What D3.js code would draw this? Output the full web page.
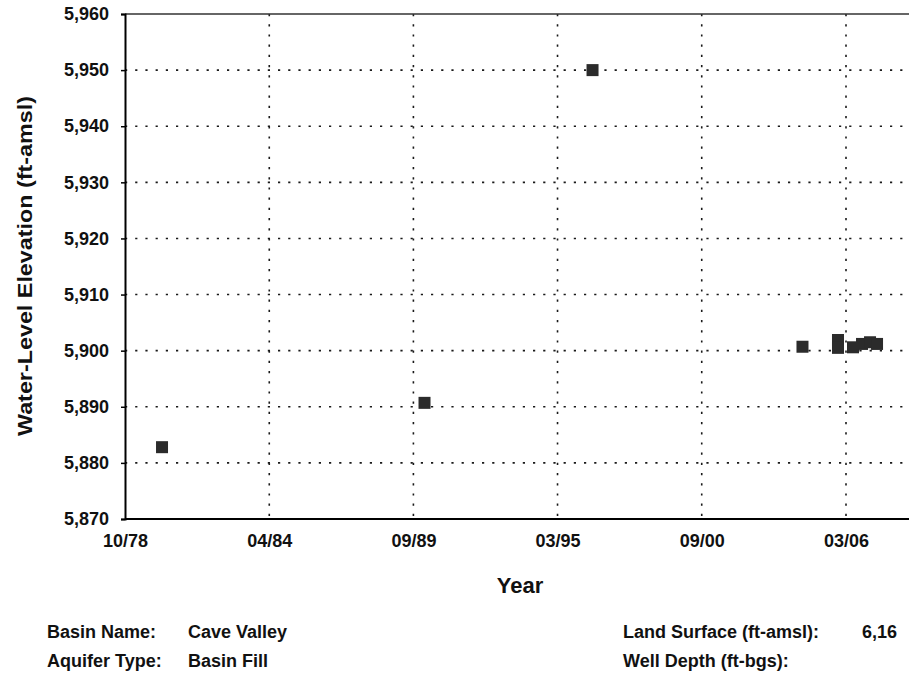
<!DOCTYPE html>
<html>
<head>
<meta charset="utf-8">
<script src="https://cdn.jsdelivr.net/npm/d3@7"></script>
<style>
  html, body { margin: 0; padding: 0; background: #fff; }
  svg { display: block; font-family: "Liberation Sans", Arial, sans-serif; font-weight: bold; }
</style>
</head>
<body>
<svg id="chart" width="909" height="673"></svg>
<script>
// ---- data ----
const measureDates = ["1980-03-16", "1990-03-01", "1996-07-15", "2004-07-02",
  "2005-11-06", "2005-11-06", "2006-06-02", "2006-10-05", "2007-01-24", "2007-05-01"];
const waterLevels = [5882.8, 5890.7, 5950.0, 5900.7,
  5901.9, 5900.5, 5900.6, 5901.2, 5901.5, 5901.2];

const xTickDates = ["1978-10-20", "1984-04-10", "1989-09-28", "1995-03-18", "2000-09-05", "2006-02-25"];
const xTickLabels = ["10/78", "04/84", "09/89", "03/95", "09/00", "03/06"];
const yTickValues = [5870, 5880, 5890, 5900, 5910, 5920, 5930, 5940, 5950, 5960];

const infoLeftLabels = ["Basin Name:", "Aquifer Type:"];
const infoLeftValues = ["Cave Valley", "Basin Fill"];
const infoRightLabels = ["Land Surface (ft-amsl):", "Well Depth (ft-bgs):"];
const infoRightValues = ["6,16", ""];

// ---- layout ----
const parse = d3.timeParse("%Y-%m-%d");
const svg = d3.select("#chart");
const pLeft = 125, pTop = 14, pBottom = 519, pRight = 990;

const x = d3.scaleTime()
  .domain([parse(xTickDates[0]), parse(xTickDates[xTickDates.length - 1])])
  .range([pLeft, 846]);
const y = d3.scaleLinear().domain([5870, 5960]).range([pBottom, pTop]);

const g = svg.append("g");

// horizontal gridlines
g.selectAll("line.hgrid").data(yTickValues.slice(1, -1)).join("line")
  .attr("class", "hgrid")
  .attr("x1", pLeft).attr("x2", pRight)
  .attr("y1", d => y(d)).attr("y2", d => y(d))
  .attr("stroke", "#1a1a1a").attr("stroke-width", 1.6)
  .attr("stroke-dasharray", "2.2,8");

// vertical gridlines
g.selectAll("line.vgrid").data(xTickDates.slice(1)).join("line")
  .attr("class", "vgrid")
  .attr("x1", d => x(parse(d))).attr("x2", d => x(parse(d)))
  .attr("y1", pTop).attr("y2", pBottom)
  .attr("stroke", "#1a1a1a").attr("stroke-width", 1.6)
  .attr("stroke-dasharray", "2.2,8");

// top border
g.append("line")
  .attr("x1", pLeft).attr("x2", pRight)
  .attr("y1", pTop).attr("y2", pTop)
  .attr("stroke", "#333").attr("stroke-width", 1.5);

// y axis
const yAxis = d3.axisLeft(y).tickValues(yTickValues)
  .tickFormat(d3.format(",")).tickSize(4).tickPadding(12);
const yg = g.append("g").attr("transform", `translate(${pLeft},0)`).call(yAxis);
yg.select(".domain").attr("stroke", "#000").attr("stroke-width", 2);
yg.selectAll(".tick line").attr("stroke", "#000").attr("stroke-width", 1.5);
yg.selectAll(".tick text").attr("font-size", 18).attr("font-weight", "bold")
  .attr("font-family", "Liberation Sans, Arial, sans-serif").attr("fill", "#111");

// x axis
const xAxis = d3.axisBottom(x).tickValues(xTickDates.map(parse))
  .tickFormat((d, i) => xTickLabels[i]).tickSize(0).tickPadding(15);
const xg = g.append("g").attr("transform", `translate(0,${pBottom})`).call(xAxis);
xg.select(".domain").attr("d", `M${pLeft},0H${pRight}`).attr("stroke", "#000").attr("stroke-width", 2);
xg.selectAll(".tick text").attr("font-size", 18).attr("font-weight", "bold")
  .attr("font-family", "Liberation Sans, Arial, sans-serif").attr("fill", "#111");

// markers
const pts = measureDates.map((d, i) => ({ date: parse(d), value: waterLevels[i] }));
const ms = 12;
g.selectAll("rect.pt").data(pts).join("rect")
  .attr("class", "pt")
  .attr("x", d => x(d.date) - ms / 2)
  .attr("y", d => y(d.value) - ms / 2)
  .attr("width", ms).attr("height", ms)
  .attr("fill", "#2b2b2b");

// axis titles
svg.append("text")
  .attr("transform", "translate(32,266) rotate(-90)")
  .attr("text-anchor", "middle")
  .attr("font-size", 21).attr("fill", "#111")
  .attr("textLength", 340).attr("lengthAdjust", "spacingAndGlyphs")
  .text("Water-Level Elevation (ft-amsl)");

svg.append("text")
  .attr("x", 520).attr("y", 593)
  .attr("text-anchor", "middle")
  .attr("font-size", 22).attr("fill", "#111")
  .text("Year");

// info block
const rowsY = [638, 667];
infoLeftLabels.forEach((t, i) => {
  svg.append("text").attr("x", 47).attr("y", rowsY[i]).attr("font-size", 18).attr("fill", "#111").text(t);
  svg.append("text").attr("x", 188).attr("y", rowsY[i]).attr("font-size", 18).attr("fill", "#111").text(infoLeftValues[i]);
});
infoRightLabels.forEach((t, i) => {
  svg.append("text").attr("x", 623).attr("y", rowsY[i]).attr("font-size", 18).attr("fill", "#111").text(t);
  svg.append("text").attr("x", 862).attr("y", rowsY[i]).attr("font-size", 18).attr("fill", "#111").text(infoRightValues[i]);
});
</script>
</body>
</html>
